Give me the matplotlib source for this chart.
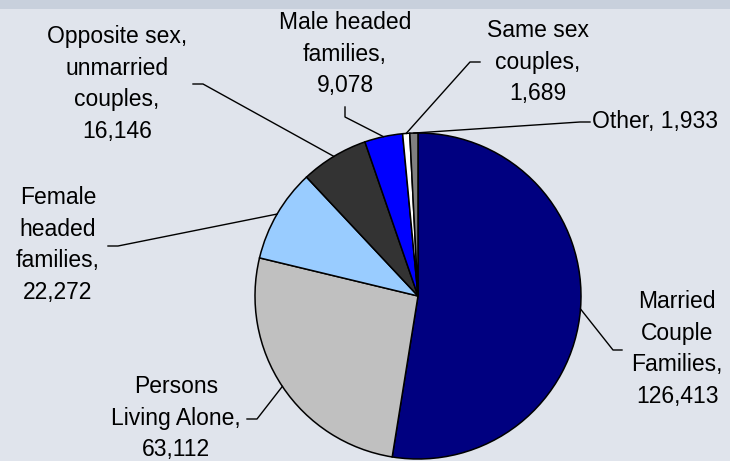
import numpy as np
import matplotlib
matplotlib.use("Agg")
import matplotlib.pyplot as plt
from matplotlib.patches import Rectangle

categories = ["Married\nCouple\nFamilies,", "Persons\nLiving Alone,", "Female\nheaded\nfamilies,",
              "Opposite sex,\nunmarried\ncouples,", "Male headed\nfamilies,", "Same sex\ncouples,", "Other,"]
values = [126413, 63112, 22272, 16146, 9078, 1689, 1933]
colors = ["#000080", "#c0c0c0", "#99ccff", "#333333", "#0000ff", "#ffffff", "#808080"]

W, H = 730, 461
def py(y):
    return H - y

# label layout in pixel space: (x, top, ha), elbow, end
label_pos = [(677, 290, "center"), (176, 375, "center"), (58, 186, "center"),
             (117, 25, "center"), (345, 11, "center"), (538, 19, "center"), (592, 110, "left")]
elbows = [(613, 350), (257, 419), (118, 246), (203, 84), (345, 117), (470, 62), (580, 122)]
ends = [(622, 350), (247, 419), (108, 246), (193, 84), (345, 107), (480, 62), (590, 122)]

fig = plt.figure(figsize=(W / 100, H / 100), dpi=100, facecolor="#e0e4ec")
fig.patches.append(Rectangle((0, 1 - 9 / H), 1, 9 / H, transform=fig.transFigure,
                             facecolor="#c8d0dc", edgecolor="none", zorder=0))
ax = fig.add_axes([0, 0, 1, 1])
ax.set_facecolor("none")

cx, cy, R = 418, 296, 163
wedges, _ = ax.pie(values, colors=colors, startangle=90, counterclock=False, radius=R,
                   center=(cx, py(cy)),
                   wedgeprops=dict(edgecolor="black", linewidth=1.1))
ax.set_xlim(0, W)
ax.set_ylim(0, H)
ax.set_aspect("auto")
ax.axis("off")

for i, w in enumerate(wedges):
    ang = np.deg2rad((w.theta1 + w.theta2) / 2)
    ex, ey = cx + R * np.cos(ang), py(cy) + R * np.sin(ang)
    (bx, by), (tx, ty) = elbows[i], ends[i]
    ax.plot([ex, bx, tx], [ey, py(by), py(ty)], color="black", lw=1.0, zorder=5)
    x, top, ha = label_pos[i]
    if i == len(wedges) - 1:
        txt = f"{categories[i]} {values[i]:,}"
    else:
        txt = f"{categories[i]}\n{values[i]:,}"
    ax.text(x, py(top), txt, ha=ha, va="top", fontsize=16.5, family="Liberation Sans",
            linespacing=1.48, multialignment="center", color="black")

fig.savefig("out.png", dpi=100, facecolor=fig.get_facecolor())
